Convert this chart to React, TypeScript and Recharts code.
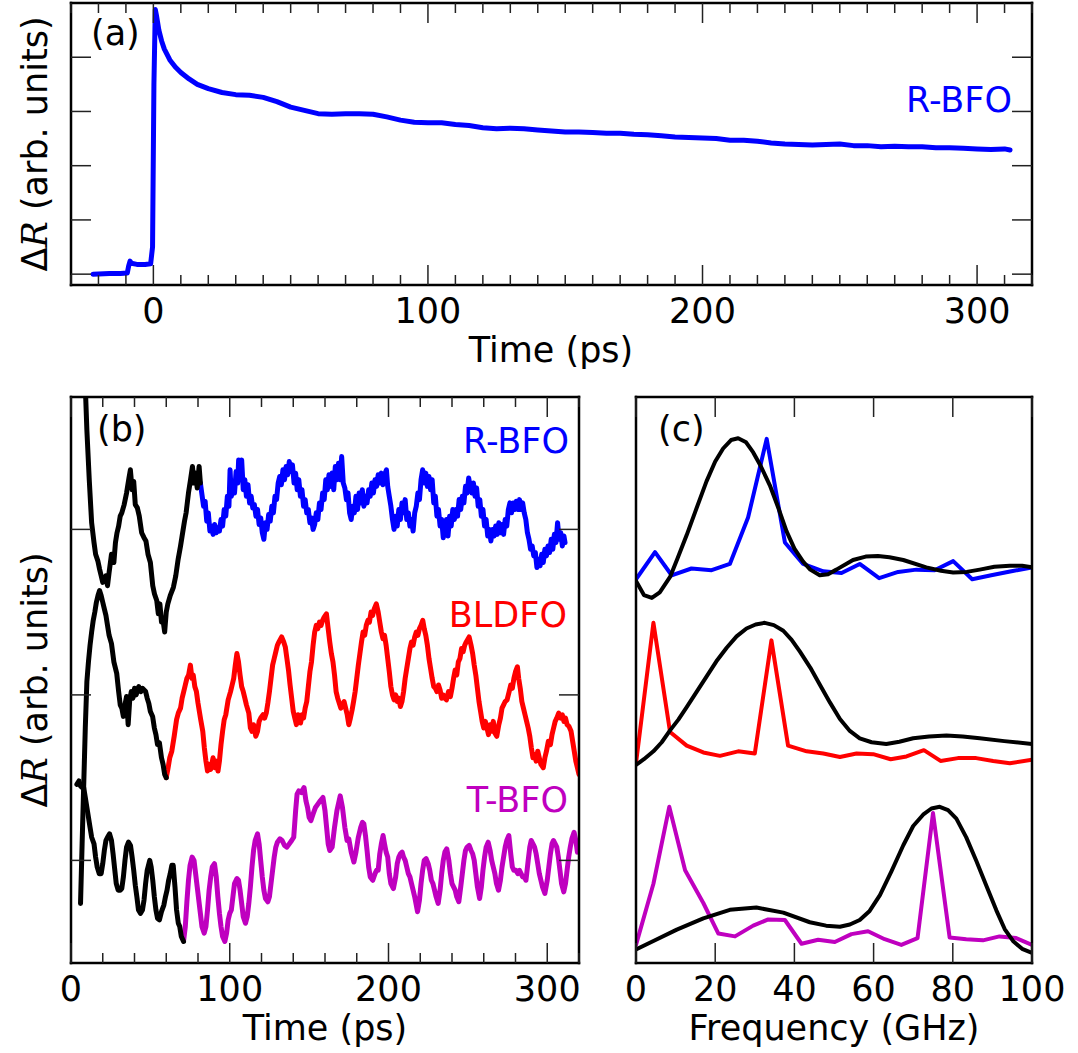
import type { ReactNode } from "react";
import { Line, LineChart, XAxis, YAxis } from "recharts";

const FONT = '"DejaVu Sans", sans-serif';
const BLUE = "#0000ff";
const RED = "#ff0000";
const MAGENTA = "#bf00bf";
const BLACK = "#000000";

type Pt = [number, number];

// ---- panel (a): R-BFO transient, time (ps) vs dR ----
const rbfoFull: Pt[] = [
	[-22, 0.0], [-16, 0.01], [-12, 0.01], [-9.5, 0.02], [-9, 0.15], [-8.5, 0.24], [-8, 0.2],
	[-6, 0.18], [-3, 0.18], [-1, 0.19], [-0.3, 0.5], [0.2, 3.5], [0.7, 4.88], [1.2, 4.75],
	[2, 4.5], [3, 4.3], [4, 4.15], [6, 3.95], [8, 3.82], [10, 3.72], [13, 3.6], [16, 3.5],
	[20, 3.42], [25, 3.35], [30, 3.31], [35, 3.3], [40, 3.26], [45, 3.18], [50, 3.08],
	[55, 3.02], [60, 2.96], [65, 2.95], [70, 2.96], [75, 2.96], [80, 2.95], [85, 2.9],
	[90, 2.84], [95, 2.8], [100, 2.79], [105, 2.79], [110, 2.76], [115, 2.74], [120, 2.7],
	[125, 2.68], [130, 2.69], [135, 2.68], [140, 2.66], [145, 2.64], [150, 2.62], [155, 2.62],
	[160, 2.61], [165, 2.6], [170, 2.6], [175, 2.58], [180, 2.57], [185, 2.55], [190, 2.53],
	[195, 2.52], [200, 2.51], [205, 2.5], [210, 2.47], [215, 2.47], [220, 2.45], [225, 2.42],
	[230, 2.4], [235, 2.39], [240, 2.38], [245, 2.39], [250, 2.4], [255, 2.37], [260, 2.37],
	[265, 2.35], [270, 2.36], [275, 2.35], [280, 2.35], [285, 2.33], [290, 2.33], [295, 2.32],
	[300, 2.31], [305, 2.3], [310, 2.31], [312, 2.29],
];

// ---- panel (b): oscillations, offset traces ----
const rbfoFit: Pt[] = [
	[8.5, 3.0], [10, 2.6], [11.5, 2.3], [13, 2.04], [14.5, 1.92], [15.5, 1.85], [16.9, 1.81],
	[18, 1.76], [19, 1.72], [20, 1.68], [21.2, 1.69], [22, 1.72], [23, 1.66], [24, 1.74],
	[25.5, 1.85], [27, 1.8], [28, 1.92], [29, 1.98], [30, 2.02], [31, 2.08], [32, 2.1],
	[33.5, 2.15], [35, 2.22], [36.5, 2.31], [37.4, 2.36], [38.5, 2.24], [39.5, 2.29],
	[40.5, 2.15], [41.8, 2.13], [43, 2.08], [44.5, 1.98], [46, 1.95], [47.2, 1.93], [48.5, 1.85],
	[50, 1.8], [51.5, 1.66], [52.6, 1.61], [54, 1.57], [55, 1.49], [56, 1.55], [57, 1.44],
	[58, 1.45], [59, 1.38], [60, 1.5], [61, 1.55], [62.5, 1.6], [64.5, 1.65], [66, 1.72],
	[67.5, 1.82], [69, 1.9], [70, 1.96], [71.5, 2.05], [72.5, 2.1], [74, 2.22], [75.3, 2.3],
	[76.5, 2.38], [77.5, 2.28], [78.5, 2.34], [79.5, 2.25], [80.7, 2.38], [81.5, 2.28],
];
const rbfoOsc: Pt[] = [
	[81.5, 2.28], [82.5, 2.21], [83.5, 2.14], [84.5, 2.17], [85.5, 2.05], [86.5, 2.1], [87.5, 1.99],
	[88.5, 2.02], [89.5, 1.97], [90.5, 2.03], [91.5, 1.98], [92.5, 2.01], [93.5, 1.99], [94.5, 2.06],
	[95.5, 2.02], [96.5, 2.12], [97.5, 2.08], [98.5, 2.2], [99.5, 2.14], [100.2, 2.36], [101, 2.2],
	[102, 2.26], [103, 2.22], [104, 2.35], [105, 2.28], [105.6, 2.42], [106.5, 2.3], [107.5, 2.42],
	[108.5, 2.24], [109.5, 2.3], [110.5, 2.2], [111.5, 2.27], [112.5, 2.16], [113.5, 2.2],
	[114.5, 2.13], [115.5, 2.15], [116.5, 2.08], [117.5, 2.12], [118.5, 2.03], [119.5, 2.07],
	[120.5, 1.98], [121.5, 1.94], [122.5, 2.04], [123.5, 2.0], [124.5, 2.09], [125.5, 2.05],
	[126.5, 2.14], [127.5, 2.1], [128.5, 2.2], [129.5, 2.18], [130.5, 2.28], [131.5, 2.32],
	[132.5, 2.27], [133.5, 2.36], [134.5, 2.3], [135.5, 2.38], [136.5, 2.33], [137.5, 2.41],
	[138.5, 2.35], [139.5, 2.39], [140.5, 2.28], [141.5, 2.34], [142.5, 2.24], [143.5, 2.3],
	[144.5, 2.2], [145.5, 2.24], [146.5, 2.14], [147.5, 2.18], [148.5, 2.1], [149.5, 2.12],
	[150.5, 2.04], [151.5, 2.07], [152.5, 2.0], [153.5, 2.03], [154.5, 2.1], [155.5, 2.06],
	[156.5, 2.16], [157.5, 2.12], [158.5, 2.22], [159.5, 2.18], [160.5, 2.3], [161.5, 2.24],
	[162.5, 2.33], [163.5, 2.26], [164.5, 2.34], [165.5, 2.24], [166.5, 2.38], [167.5, 2.3],
	[168.5, 2.4], [169.5, 2.3], [170.5, 2.44], [171.5, 2.28], [172.5, 2.25], [173.5, 2.18],
	[174.5, 2.22], [175.5, 2.1], [176.5, 2.06], [177.5, 2.14], [178.5, 2.1], [179.5, 2.2],
	[180.5, 2.12], [181.5, 2.22], [182.5, 2.16], [183.5, 2.24], [184.5, 2.14], [185.5, 2.2],
	[186.5, 2.16], [187.5, 2.24], [188.5, 2.2], [189.5, 2.28], [190.5, 2.22], [191.5, 2.3],
	[192.5, 2.26], [193.5, 2.33], [194.5, 2.28], [195.5, 2.34], [196.5, 2.27], [197.5, 2.33],
	[198.7, 2.36], [199.5, 2.26], [200.5, 2.2], [201.5, 2.14], [202.5, 2.06], [203.5, 2.0],
	[204.5, 2.08], [205.5, 2.02], [206.5, 2.12], [207.5, 2.06], [208.5, 2.16], [209.5, 2.1],
	[210.5, 2.18], [211.5, 2.06], [212.5, 2.1], [213.5, 2.02], [214.5, 2.06], [215.5, 1.99],
	[216.5, 2.1], [217.5, 2.14], [218.5, 2.22], [219.5, 2.18], [220.5, 2.3], [221.5, 2.36],
	[222.5, 2.28], [223.5, 2.34], [224.5, 2.26], [225.5, 2.32], [226.5, 2.24], [227.5, 2.3],
	[228.5, 2.16], [229.5, 2.2], [230.5, 2.08], [231.5, 2.12], [232.5, 2.02], [233.5, 2.06],
	[234.5, 1.95], [235.5, 2.0], [236.5, 2.06], [237.5, 1.96], [238.5, 2.08], [239.5, 2.02],
	[240.5, 2.12], [241.5, 2.06], [242.5, 2.12], [243.5, 2.08], [244.5, 2.18], [245.5, 2.12],
	[246.5, 2.2], [247.5, 2.16], [248.5, 2.26], [249.5, 2.22], [250.5, 2.31], [251.5, 2.26],
	[252.5, 2.22], [253.5, 2.28], [254.5, 2.2], [255.5, 2.25], [256.5, 2.14], [257.5, 2.18],
	[258.5, 2.08], [259.5, 2.12], [260.5, 2.02], [261.5, 2.06], [262.5, 1.96], [263.5, 2.0],
	[264.5, 1.93], [265.5, 2.0], [266.5, 1.96], [267.5, 2.02], [268.5, 1.97], [269.5, 2.04],
	[270.5, 1.98], [271.5, 2.03], [272.5, 1.97], [273.5, 2.06], [274.5, 2.02], [275.5, 2.12],
	[276.5, 2.16], [277.5, 2.1], [278.5, 2.16], [279.5, 2.12], [280.5, 2.17], [281.5, 2.12],
	[282.5, 2.18], [283.5, 2.12], [284.5, 2.16], [285.5, 2.1], [286.5, 2.06], [287.5, 1.98],
	[288.5, 1.94], [289.5, 1.88], [290.5, 1.9], [291.5, 1.84], [292.5, 1.86], [293.5, 1.77],
	[294.5, 1.82], [295.5, 1.78], [296.5, 1.85], [297.5, 1.8], [298.5, 1.88], [299.5, 1.84],
	[300.5, 1.9], [301.5, 1.86], [302.5, 1.94], [303.5, 1.88], [304.5, 1.97], [305.5, 1.92],
	[306.5, 2.04], [307.5, 1.94], [308.5, 1.98], [309.5, 1.9], [310.5, 1.96], [311.2, 1.92],
];

const bldfoFit: Pt[] = [
	[6, -0.26], [7, 0.1], [8, 0.45], [9, 0.8], [10, 1.08], [11, 1.2], [12, 1.3], [13, 1.38],
	[14, 1.45], [15, 1.5], [16, 1.56], [17, 1.6], [18, 1.63], [19, 1.6], [20, 1.56], [21, 1.52],
	[22, 1.48], [23, 1.42], [24, 1.36], [25.5, 1.31], [27, 1.2], [28.8, 1.13], [30, 1.02],
	[31, 0.94], [32, 0.92], [33, 0.87], [34, 0.94], [35, 0.99], [36, 0.82], [37, 0.97],
	[38, 1.02], [39, 0.98], [40, 1.04], [41, 1.0], [42.7, 1.05], [44, 1.02], [45, 1.04],
	[47, 1.02], [48, 0.98], [49, 0.95], [50, 0.9], [51.4, 0.87], [52.5, 0.8], [53.5, 0.76],
	[54.5, 0.7], [55.7, 0.71], [57, 0.62], [58, 0.58], [59, 0.52], [60, 0.5],
];
const bldfoOsc: Pt[] = [
	[60, 0.5], [61, 0.55], [62.2, 0.62], [63.5, 0.66], [65, 0.75], [66.5, 0.85], [67.6, 0.89],
	[69, 0.92], [70, 0.98], [71, 1.02], [72, 1.06], [73, 1.1], [74.1, 1.12], [75.2, 1.18],
	[76.2, 1.1], [77, 1.12], [78, 1.05], [79, 1.02], [80, 0.95], [81.7, 0.85], [83, 0.78],
	[84, 0.68], [85, 0.6], [86, 0.54], [87, 0.58], [88, 0.55], [89.5, 0.62], [90.5, 0.56],
	[91.5, 0.6], [92.6, 0.54], [93.5, 0.6], [94.5, 0.7], [95.5, 0.78], [96.5, 0.85], [97.5, 0.88],
	[99, 0.97], [100.5, 1.02], [101.5, 1.06], [102.5, 1.1], [103.5, 1.18], [104.5, 1.25],
	[105.5, 1.2], [106.5, 1.12], [107.5, 1.05], [108.5, 1.02], [109.5, 0.98], [110.5, 0.94],
	[112, 0.89], [113, 0.8], [114, 0.78], [115, 0.82], [116.4, 0.75], [117.5, 0.78],
	[118.5, 0.84], [119.5, 0.86], [121, 0.88], [122, 0.86], [123, 0.89], [124, 0.95],
	[125, 1.02], [126, 1.1], [127, 1.18], [128, 1.22], [129, 1.26], [130, 1.3], [131, 1.32],
	[132.7, 1.35], [134, 1.32], [135, 1.29], [136, 1.22], [137, 1.15], [138, 1.06], [139, 0.98],
	[140, 0.9], [141, 0.86], [142, 0.82], [143, 0.88], [144.6, 0.83], [145.5, 0.88],
	[146.5, 0.86], [147.5, 0.92], [148.5, 0.96], [149.5, 1.05], [150.5, 1.14], [151.5, 1.2],
	[152.5, 1.3], [153.5, 1.38], [154.5, 1.42], [155.5, 1.4], [156.5, 1.44], [157.5, 1.42],
	[158.5, 1.45], [159.5, 1.47], [160.9, 1.49], [162, 1.4], [163, 1.32], [164, 1.25],
	[165, 1.2], [166, 1.12], [167, 1.02], [168, 0.98], [169, 0.95], [170, 0.92], [171, 0.94],
	[172, 0.96], [173, 0.92], [174, 0.88], [175, 0.82], [176, 0.86], [177.1, 0.91], [178, 0.96],
	[179, 1.02], [180, 1.1], [181, 1.18], [182, 1.25], [183, 1.32], [184, 1.38], [185, 1.36],
	[186, 1.42], [187, 1.45], [188, 1.44], [189, 1.5], [190, 1.48], [191, 1.52], [192.3, 1.55],
	[193.5, 1.5], [194.5, 1.44], [195.5, 1.38], [196.5, 1.34], [197.5, 1.36], [198.5, 1.3],
	[199.5, 1.22], [200.5, 1.14], [201.5, 1.05], [202.5, 1.0], [203.5, 0.97], [204.5, 1.0],
	[205.5, 0.96], [206.5, 0.98], [207.5, 0.93], [208.5, 0.96], [209.5, 1.02], [210.5, 1.1],
	[211.5, 1.16], [212.5, 1.22], [213.5, 1.28], [214.5, 1.32], [215.5, 1.3], [216.5, 1.35],
	[217.5, 1.38], [218.5, 1.36], [219.5, 1.4], [220.5, 1.42], [221.6, 1.45], [222.5, 1.4],
	[223.5, 1.36], [224.5, 1.3], [225.5, 1.22], [226.5, 1.16], [227.5, 1.1], [228.5, 1.05],
	[229.5, 1.04], [230.5, 1.02], [231.5, 1.06], [232.5, 1.03], [233.5, 0.98], [234.5, 1.0],
	[235.5, 0.98], [236.5, 0.97], [237.8, 1.02], [239, 0.99], [240, 1.04], [241, 1.1],
	[242, 1.15], [243, 1.12], [244, 1.2], [245, 1.22], [246, 1.28], [247, 1.26], [248, 1.3],
	[249, 1.32], [250.8, 1.35], [252, 1.3], [253, 1.25], [254, 1.18], [255, 1.12], [256, 1.04],
	[257, 0.96], [258, 0.9], [259, 0.84], [260, 0.8], [261, 0.84], [262, 0.8], [263, 0.76],
	[264, 0.82], [265, 0.78], [266, 0.84], [267, 0.77], [268.2, 0.75], [269.5, 0.82],
	[270.5, 0.86], [271.5, 0.92], [272.5, 0.94], [273.5, 0.96], [274.7, 0.97], [276, 1.02],
	[277, 1.06], [278, 1.04], [279, 1.1], [280, 1.14], [281.2, 1.17], [282, 1.1], [283, 1.04],
	[284, 0.96], [285, 0.92], [286, 0.88], [287, 0.84], [288, 0.8], [289, 0.75], [290, 0.68],
	[291, 0.62], [292, 0.64], [293, 0.6], [294, 0.66], [295, 0.62], [296, 0.58], [297.5, 0.56],
	[298.5, 0.62], [299.5, 0.66], [300.7, 0.72], [302, 0.7], [303, 0.76], [304, 0.8],
	[305, 0.84], [306, 0.86], [307.2, 0.89], [308.5, 0.86], [309.5, 0.88], [310.5, 0.84],
	[311.5, 0.86], [312.5, 0.82], [313.7, 0.81], [315, 0.78], [316, 0.72], [317, 0.66],
	[318, 0.6], [319, 0.56], [320, 0.52],
];

const tbfoFit: Pt[] = [
	[3.7, 0.46], [5, 0.48], [6, 0.45], [7, 0.44], [8, 0.44], [9, 0.38], [10, 0.32], [11, 0.26],
	[12, 0.2], [13, 0.14], [14.5, 0.1], [15.5, 0.02], [16.5, -0.04], [17.8, -0.08], [19, -0.08],
	[20, -0.02], [21, 0.06], [22, 0.12], [23, 0.14], [24.3, 0.16], [25.5, 0.12], [26.5, 0.04],
	[27.5, -0.05], [28.5, -0.14], [29.7, -0.18], [31, -0.18], [32, -0.17], [33, -0.1], [34, 0.0],
	[35, 0.08], [36.2, 0.11], [37.5, 0.09], [38.5, 0.02], [39.5, -0.06], [40.5, -0.15],
	[41.5, -0.22], [42.5, -0.3], [43.8, -0.32], [45, -0.3], [46, -0.24], [47, -0.14],
	[48, -0.06], [49.6, 0.0], [50.5, -0.04], [51.5, -0.12], [52.5, -0.22], [53.5, -0.3],
	[54.5, -0.35], [55.7, -0.36], [57, -0.31], [58.5, -0.27], [59.5, -0.22], [60.5, -0.18],
	[61.5, -0.12], [62.5, -0.08], [63.5, -0.03], [64.4, -0.03], [65.5, -0.16], [66.5, -0.3],
	[67.6, -0.38], [68.5, -0.4], [69.5, -0.46], [70.9, -0.49],
];
const tbfoOsc: Pt[] = [
	[71, -0.48], [72, -0.4], [73, -0.25], [74, -0.12], [75, -0.03], [76.3, 0.02], [77.5, 0.0],
	[78.5, -0.08], [79.5, -0.16], [80.5, -0.24], [81.5, -0.32], [82.5, -0.4], [83.9, -0.44],
	[85, -0.4], [86, -0.3], [87, -0.18], [88, -0.1], [89, -0.04], [90.4, -0.02], [91.5, -0.1],
	[92.5, -0.22], [93.5, -0.32], [94.5, -0.4], [95.5, -0.46], [96.9, -0.49], [98, -0.44],
	[99, -0.36], [100, -0.32], [101, -0.3], [102, -0.22], [103, -0.14], [104.5, -0.11],
	[105.5, -0.12], [106.5, -0.18], [107.5, -0.26], [108.5, -0.34], [109.9, -0.38], [111, -0.34],
	[112, -0.26], [113, -0.16], [114, -0.04], [115, 0.06], [116, 0.12], [117.5, 0.16],
	[118.5, 0.1], [119.5, 0.0], [120.5, -0.1], [121.5, -0.18], [122.5, -0.23], [124, -0.25],
	[125, -0.22], [126, -0.14], [127, -0.06], [128, 0.02], [129, 0.08], [130, 0.11],
	[131.6, 0.13], [133, 0.12], [134.5, 0.09], [136, 0.08], [137.5, 0.1], [139, 0.12],
	[140.3, 0.14], [141.5, 0.3], [142.4, 0.4], [143.5, 0.42], [145, 0.41], [146.8, 0.44],
	[148, 0.36], [149, 0.32], [150, 0.26], [151.1, 0.24], [152.5, 0.28], [154, 0.32],
	[155.5, 0.34], [157, 0.36], [158.7, 0.38], [160, 0.3], [161, 0.2], [162, 0.1], [163, 0.06],
	[164.5, 0.08], [166, 0.2], [167.5, 0.3], [169.6, 0.39], [171, 0.32], [172.5, 0.2],
	[173.9, 0.12], [175, 0.13], [176.5, 0.05], [178.2, -0.01], [179.5, 0.05], [181, 0.14],
	[182.5, 0.2], [183.6, 0.23], [184.5, 0.22], [185.5, 0.15], [186.5, 0.06], [187.5, -0.04],
	[188.5, -0.1], [190.1, -0.12], [191.5, -0.08], [192.5, -0.06], [193.5, -0.06], [194.5, 0.04],
	[195.5, 0.1], [196.6, 0.15], [197.5, 0.1], [198.5, 0.05], [199.5, 0.02], [200.5, -0.08],
	[201.5, -0.14], [203.1, -0.17], [204.5, -0.1], [205.5, -0.02], [206.5, 0.02], [207.5, 0.04],
	[208.6, 0.05], [209.5, 0.02], [210.5, 0.0], [211.5, -0.04], [212.5, -0.08], [213.5, -0.1],
	[214.5, -0.14], [215.5, -0.18], [216.5, -0.22], [218.3, -0.31], [219.5, -0.24],
	[220.5, -0.14], [221.5, -0.06], [222.5, 0.0], [223.7, 0.01], [225, -0.02], [226, -0.06],
	[227, -0.12], [228, -0.14], [229, -0.18], [230, -0.22], [231.3, -0.26], [232.5, -0.18],
	[233.5, -0.08], [234.5, 0.0], [235.5, 0.05], [236.7, 0.07], [238, 0.0], [239, -0.08],
	[240, -0.14], [241, -0.16], [242, -0.18], [243, -0.22], [244.3, -0.25], [245.5, -0.16],
	[246.5, -0.08], [247.5, 0.0], [248.5, 0.06], [249.5, 0.08], [250.8, 0.09], [252, 0.06],
	[253, 0.04], [254, 0.0], [255, -0.08], [256, -0.16], [257.4, -0.23], [258.5, -0.16],
	[259.5, -0.06], [260.5, 0.02], [261.5, 0.08], [262.8, 0.11], [264, 0.06], [265, 0.0],
	[266, -0.04], [267, -0.08], [268, -0.14], [269.3, -0.18], [270.5, -0.12], [271.5, -0.04],
	[272.5, 0.02], [273.5, 0.08], [274.5, 0.12], [275.8, 0.15], [277, 0.04], [278, -0.04],
	[279, -0.06], [280.2, -0.06], [281.5, -0.08], [282.5, -0.06], [283.5, -0.08], [284.5, -0.1],
	[285.5, -0.1], [286.6, -0.12], [288, 0.0], [289, 0.08], [289.9, 0.12], [291, 0.1],
	[292, 0.08], [293, 0.04], [294, -0.02], [295, -0.08], [296, -0.12], [297, -0.16],
	[298.5, -0.2], [300, -0.12], [301, -0.04], [302, 0.04], [303, 0.1], [303.9, 0.12],
	[305, 0.1], [306, 0.08], [307, 0.02], [308, -0.06], [309, -0.14], [310.4, -0.19],
	[311.5, -0.14], [312.5, -0.06], [313.5, 0.02], [314.5, 0.08], [315.5, 0.13], [316.9, 0.17],
	[318, 0.12], [319, 0.05], [320, 0.08],
];

// ---- panel (c): Fourier spectra, frequency (GHz) ----
const rbfoSpec: Pt[] = [
	[0, 6.78], [4.8, 7.26], [9, 6.85], [14, 6.97], [19.1, 6.94], [23.7, 7.05], [28.3, 7.87],
	[33, 9.26], [37.6, 7.43], [42.2, 7.05], [47.3, 6.92], [51.9, 6.89], [56.5, 7.05], [61.4, 6.8],
	[66.2, 6.91], [70.8, 6.95], [75.4, 6.94], [80.1, 7.1], [84.9, 6.78], [89.7, 6.85],
	[94.8, 6.92], [100, 6.99],
];
const rbfoSpecFit: Pt[] = [
	[0, 6.75], [2, 6.5], [4, 6.45], [6, 6.55], [8.6, 6.82], [10.5, 7.15], [12.8, 7.56],
	[15, 7.98], [17.8, 8.51], [20, 8.86], [22, 9.09], [24, 9.24], [25.8, 9.27], [27.8, 9.2],
	[29.6, 9.02], [31.5, 8.78], [33.8, 8.44], [36, 8.03], [38, 7.63], [40, 7.32], [42.2, 7.09],
	[44, 6.95], [46.4, 6.85], [48.5, 6.87], [50.6, 6.95], [54.8, 7.12], [58, 7.18], [61.1, 7.19],
	[64, 7.17], [67.5, 7.12], [73.3, 6.99], [77, 6.93], [80.1, 6.9], [83.5, 6.91], [86.8, 6.95],
	[90.5, 7.0], [94.4, 7.02], [97.5, 7.02], [100, 6.99],
];
const bldfoSpec: Pt[] = [
	[0, 3.53], [4.4, 6.01], [8.6, 4.08], [12.8, 3.84], [17, 3.72], [21.2, 3.66], [25.8, 3.74],
	[30, 3.7], [34.2, 5.7], [38.4, 3.84], [43.1, 3.74], [47.3, 3.7], [51.5, 3.64], [55.7, 3.7],
	[59.9, 3.69], [64.3, 3.6], [68.3, 3.65], [72.7, 3.76], [76.9, 3.57], [81.3, 3.62],
	[85.9, 3.62], [90.2, 3.57], [94.4, 3.53], [100, 3.59],
];
const bldfoSpecFit: Pt[] = [
	[0, 3.5], [2, 3.6], [4.4, 3.74], [6.5, 3.9], [8.6, 4.11], [10.7, 4.3], [12.8, 4.52],
	[15.3, 4.79], [17.8, 5.06], [20.3, 5.33], [22.9, 5.57], [25.4, 5.77], [27.9, 5.91],
	[30.2, 5.98], [32.5, 6.01], [34.8, 5.97], [37.2, 5.87], [39.3, 5.71], [41.4, 5.5],
	[44, 5.22], [46.4, 4.92], [49, 4.6], [51.5, 4.31], [54, 4.1], [56.5, 3.97], [59.5, 3.9],
	[63.2, 3.87], [66.5, 3.91], [70, 3.97], [74, 4.0], [78.4, 4.02], [82.5, 4.0], [86.8, 3.97],
	[93, 3.92], [100, 3.87],
];
const tbfoSpec: Pt[] = [
	[0, 0.32], [4.4, 1.4], [8.4, 2.76], [12.4, 1.64], [17, 1.06], [20.8, 0.52], [25, 0.47],
	[29.6, 0.66], [33.4, 0.77], [37.6, 0.76], [41.8, 0.34], [46, 0.41], [50.2, 0.37], [54.4, 0.51],
	[58.6, 0.56], [62.8, 0.42], [67, 0.32], [71.1, 0.44], [75, 2.65], [79.2, 0.45], [83.4, 0.42],
	[87.6, 0.4], [91.8, 0.47], [96, 0.44], [100, 0.32],
];
const tbfoSpecFit: Pt[] = [
	[0, 0.24], [4.4, 0.39], [10.3, 0.59], [17, 0.79], [23.7, 0.94], [30.4, 0.98], [37.2, 0.89],
	[43.9, 0.72], [48, 0.66], [51.5, 0.64], [54, 0.68], [56.5, 0.76], [59, 0.92], [61.6, 1.2],
	[64.5, 1.62], [67.5, 2.08], [70, 2.42], [72.5, 2.62], [74.6, 2.73], [76.7, 2.76],
	[78.8, 2.7], [80.9, 2.55], [83.4, 2.22], [85.9, 1.81], [88.5, 1.36], [91, 0.93],
	[93.1, 0.6], [95.2, 0.39], [97.5, 0.25], [100, 0.18],
];

// tick positions
const ticksA = [-30, -20, -10, 0, 10, 20, 30, 40, 50, 60, 70, 80, 90, 100, 110, 120, 130, 140, 150,
	160, 170, 180, 190, 200, 210, 220, 230, 240, 250, 260, 270, 280, 290, 300, 310, 320];
const majorA = [0, 100, 200, 300];
const yTicksA = [0, 1, 2, 3, 4];
const ticksB = [0, 20, 40, 60, 80, 100, 120, 140, 160, 180, 200, 220, 240, 260, 280, 300, 320];
const majorB = [0, 100, 200, 300];
const yTicksB = [0, 1, 2];
const ticksC = [0, 20, 40, 60, 80, 100];

type Side = "bottom" | "top" | "left" | "right";

function makeTick(side: Side, major: number[], labels: boolean) {
	return (p: any): ReactNode => {
		const { x, y, payload } = p;
		const v = payload.value;
		const big = major.includes(v);
		const len = big ? 20 : 10;
		let x2 = x;
		let y2 = y;
		if (side === "bottom") y2 = y - len;
		if (side === "top") y2 = y + len;
		if (side === "left") x2 = x + len;
		if (side === "right") x2 = x - len;
		return (
			<g>
				<line x1={x} y1={y} x2={x2} y2={y2} stroke="#222" strokeWidth={1.5} />
				{labels && big && (
					<text x={x} y={y + 38} textAnchor="middle" fontSize={35} fontFamily={FONT} fill="#000">
						{v}
					</text>
				)}
			</g>
		);
	};
}

const rows = (pts: Pt[]) => pts.map(([x, y]) => ({ x, y }));
const frame = { stroke: "#000", strokeWidth: 2.5, strokeLinecap: "square" as const };

type Series = { pts: Pt[]; color: string; width: number };

// axes get a 1px box (a 0 size axis is not drawn at all), so margins are 1px smaller
function Panel(props: {
	left: number;
	top: number;
	width: number;
	height: number;
	margin: { top: number; right: number; bottom: number; left: number };
	xDomain: [number, number];
	xTicks: number[];
	xMajor: number[];
	yDomain: [number, number];
	yTicks: number[];
	series: Series[];
}): ReactNode {
	const { left, top, width, height, margin, xDomain, xTicks, xMajor, yDomain, yTicks, series } = props;
	const hasY = yTicks.length > 0;
	const m = { top: margin.top - 1, right: margin.right - 1, bottom: margin.bottom - 1, left: margin.left - 1 };
	return (
		<div style={{ position: "absolute", left, top }}>
			<LineChart width={width} height={height} margin={m}>
				<XAxis xAxisId="b" type="number" dataKey="x" domain={xDomain} allowDataOverflow
					ticks={xTicks} interval={0} height={1} tickSize={0} tickMargin={0}
					axisLine={frame} tickLine={false} tick={makeTick("bottom", xMajor, true)} />
				<XAxis xAxisId="t" orientation="top" type="number" dataKey="x" domain={xDomain} allowDataOverflow
					ticks={xTicks} interval={0} height={1} tickSize={0} tickMargin={0}
					axisLine={frame} tickLine={false} tick={makeTick("top", xMajor, false)} />
				<YAxis yAxisId="l" type="number" domain={yDomain} allowDataOverflow
					ticks={hasY ? yTicks : undefined} interval={0} width={1} tickSize={0} tickMargin={0}
					axisLine={frame} tickLine={false} tick={hasY ? makeTick("left", yTicks, false) : false} />
				<YAxis yAxisId="r" orientation="right" type="number" domain={yDomain} allowDataOverflow
					ticks={hasY ? yTicks : undefined} interval={0} width={1} tickSize={0} tickMargin={0}
					axisLine={frame} tickLine={false} tick={hasY ? makeTick("right", yTicks, false) : false} />
				{series.map((s, i) => (
					<Line key={i} xAxisId="b" yAxisId="l" data={rows(s.pts)} dataKey="y" type="linear"
						stroke={s.color} strokeWidth={s.width} strokeLinejoin="round" strokeLinecap="round"
						dot={false} activeDot={false} isAnimationActive={false} />
				))}
			</LineChart>
		</div>
	);
}

function YLabel({ x, y }: { x: number; y: number }): ReactNode {
	return (
		<text x={x} y={y} transform={`rotate(-90 ${x} ${y})`} textAnchor="middle" fontSize={35} fontFamily={FONT}>
			Δ<tspan fontFamily='"DejaVu Serif", serif' fontStyle="italic">R</tspan> (arb. units)
		</text>
	);
}

export default function App(): ReactNode {
	return (
		<div style={{ position: "absolute", left: 0, top: 0, width: 1078, height: 1053, background: "#fff", fontFamily: FONT }}>
			<Panel left={0} top={0} width={1078} height={400}
				margin={{ top: 3, right: 46, bottom: 115, left: 71 }}
				xDomain={[-30, 320]} xTicks={ticksA} xMajor={majorA}
				yDomain={[-0.2, 5]} yTicks={yTicksA}
				series={[{ pts: rbfoFull, color: BLUE, width: 5 }]} />
			<Panel left={0} top={380} width={600} height={673}
				margin={{ top: 17, right: 21, bottom: 90, left: 71 }}
				xDomain={[0, 320]} xTicks={ticksB} xMajor={majorB}
				yDomain={[-0.62, 2.8]} yTicks={yTicksB}
				series={[
					{ pts: rbfoOsc, color: BLUE, width: 5 },
					{ pts: bldfoOsc, color: RED, width: 5 },
					{ pts: tbfoOsc, color: MAGENTA, width: 5 },
					{ pts: rbfoFit, color: BLACK, width: 5 },
					{ pts: bldfoFit, color: BLACK, width: 5 },
					{ pts: tbfoFit, color: BLACK, width: 5 },
				]} />
			<Panel left={600} top={380} width={478} height={673}
				margin={{ top: 17, right: 46, bottom: 90, left: 36 }}
				xDomain={[0, 100]} xTicks={ticksC} xMajor={ticksC}
				yDomain={[0, 10]} yTicks={[]}
				series={[
					{ pts: rbfoSpec, color: BLUE, width: 4 },
					{ pts: bldfoSpec, color: RED, width: 4 },
					{ pts: tbfoSpec, color: MAGENTA, width: 4 },
					{ pts: rbfoSpecFit, color: BLACK, width: 4 },
					{ pts: bldfoSpecFit, color: BLACK, width: 4 },
					{ pts: tbfoSpecFit, color: BLACK, width: 4 },
				]} />
			<svg width={1078} height={1053} style={{ position: "absolute", left: 0, top: 0, pointerEvents: "none" }}>
				<g fontFamily={FONT} fontSize={35}>
					<text x={91} y={45}>(a)</text>
					<text x={1012} y={112} textAnchor="end" fill={BLUE}>R-BFO</text>
					<text x={551} y={362} textAnchor="middle">Time (ps)</text>
					<YLabel x={47} y={144} />
					<text x={97} y={441}>(b)</text>
					<text x={569} y={453} textAnchor="end" fill={BLUE}>R-BFO</text>
					<text x={567} y={627} textAnchor="end" fill={RED}>BLDFO</text>
					<text x={568} y={812} textAnchor="end" fill={MAGENTA}>T-BFO</text>
					<text x={325} y={1040} textAnchor="middle">Time (ps)</text>
					<YLabel x={47} y={680} />
					<text x={658} y={441}>(c)</text>
					<text x={834} y={1040} textAnchor="middle">Frequency (GHz)</text>
				</g>
			</svg>
		</div>
	);
}
